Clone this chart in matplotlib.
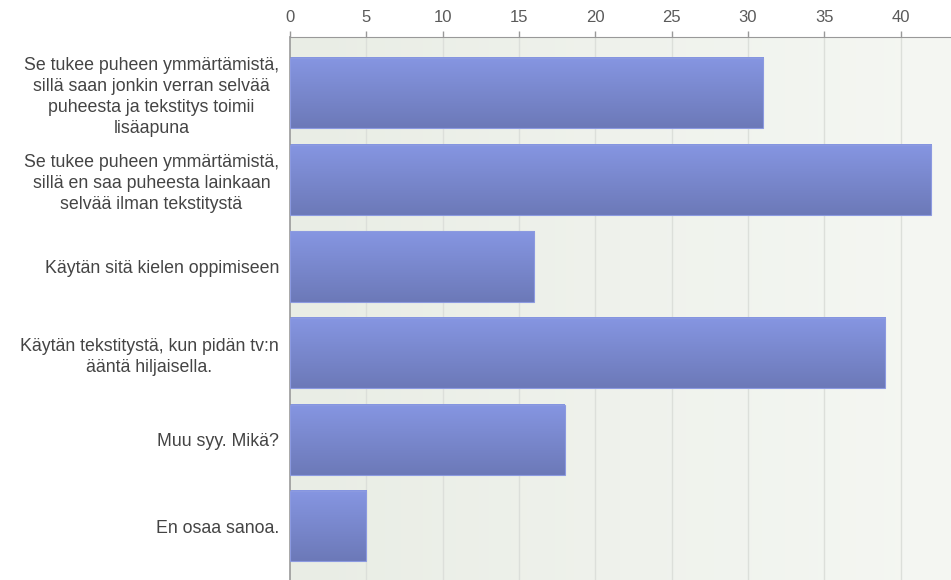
import numpy as np
import matplotlib.pyplot as plt
from matplotlib.colors import LinearSegmentedColormap

# ----------------------------
# Data
# ----------------------------
labels = [
    "Se tukee puheen ymmärtämistä,\nsillä saan jonkin verran selvää\npuheesta ja tekstitys toimii\nlisäapuna",
    "Se tukee puheen ymmärtämistä,\nsillä en saa puheesta lainkaan\nselvää ilman tekstitystä",
    "Käytän sitä kielen oppimiseen",
    "Käytän tekstitystä, kun pidän tv:n\nääntä hiljaisella.",
    "Muu syy. Mikä?",
    "En osaa sanoa.",
]
values = [31, 42, 16, 39, 18, 5]
xticks = [0, 5, 10, 15, 20, 25, 30, 35, 40]

plt.rcParams['font.family'] = ['Liberation Sans', 'DejaVu Sans']

fig = plt.figure(figsize=(9.51, 5.8), dpi=100)
ax = fig.add_axes([290 / 951, 0, 1 - 290 / 951, 1 - 37 / 580])

xmax = 43.3
ymin, ymax = 5.62, -0.65
ax.set_xlim(0, xmax)
ax.set_ylim(ymin, ymax)

# background gradient (left slightly greener/darker -> right lighter)
bg_cmap = LinearSegmentedColormap.from_list("bg", ["#e9ede5", "#f5f7f3"])
bg = np.linspace(0, 1, 256).reshape(1, -1)
ax.imshow(bg, cmap=bg_cmap, aspect='auto', extent=(0, xmax, ymin, ymax), zorder=0)

# vertical grid lines
for t in xticks[1:]:
    ax.axvline(t, color="#dcdfda", lw=1.0, zorder=1)

# bars with vertical gradient
bar_cmap = LinearSegmentedColormap.from_list("bar", ["#8696e2", "#6c79b8"])
grad = np.linspace(0, 1, 256).reshape(-1, 1)
h = 0.81
for i, v in enumerate(values):
    ax.imshow(grad, cmap=bar_cmap, aspect='auto',
              extent=(0, v, i + h / 2, i - h / 2), zorder=2)
    ax.add_patch(plt.Rectangle((0, i - h / 2), v, h, fill=False,
                               edgecolor="#8c9ae0", lw=0.8, zorder=3))

ax.set_xlim(0, xmax)
ax.set_ylim(ymin, ymax)

# axes styling
ax.xaxis.tick_top()
ax.set_xticks(xticks)
ax.set_xticklabels([str(t) for t in xticks])
ax.tick_params(axis='x', labelcolor="#5a5a5a", labelsize=12, length=4, width=1,
               pad=5, color="#999999")
ax.set_yticks(range(len(labels)))
ax.set_yticklabels(labels, multialignment='center', linespacing=1.3)
ax.tick_params(axis='y', length=0, labelsize=12.8, labelcolor="#444444", pad=8)

for side in ['right', 'bottom']:
    ax.spines[side].set_visible(False)
ax.spines['top'].set_color("#999999")
ax.spines['left'].set_color("#999999")
ax.spines['left'].set_linewidth(1.2)

fig.savefig("out.png", dpi=100)
